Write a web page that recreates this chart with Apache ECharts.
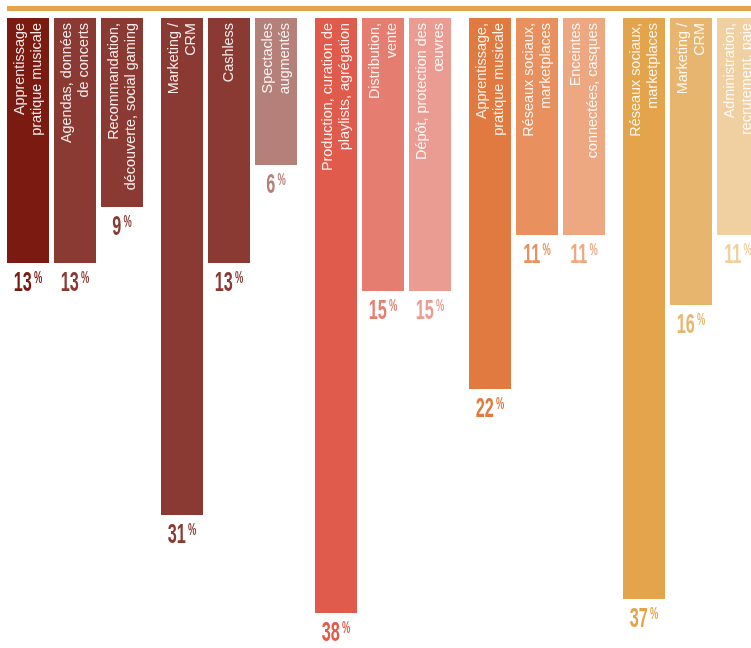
<!DOCTYPE html>
<html>
<head>
<meta charset="utf-8">
<script src="https://cdn.jsdelivr.net/npm/echarts@6/dist/echarts.min.js"></script>
<style>
  html, body { margin: 0; padding: 0; background: #ffffff; }
  #chart { width: 751px; height: 648px; }
</style>
</head>
<body>
<div id="chart"></div>
<script>
// Five groups of three uses each; every bar hangs from the top rule.
const groups = ['1', '2', '3', '4', '5'];

const labels = [
  'Apprentissage\npratique musicale',
  'Agendas, données\nde concerts',
  'Recommandation,\ndécouverte, social gaming',
  'Marketing /\nCRM',
  'Cashless',
  'Spectacles\naugmentés',
  'Production, curation de\nplaylists, agrégation',
  'Distribution,\nvente',
  'Dépôt, protection des\nœuvres',
  'Apprentissage,\npratique musicale',
  'Réseaux sociaux,\nmarketplaces',
  'Enceintes\nconnectées, casques',
  'Réseaux sociaux,\nmarketplaces',
  'Marketing /\nCRM',
  'Administration,\nrecrutement, paie'
];

const values = [13, 13, 9, 31, 13, 6, 38, 15, 15, 22, 11, 11, 37, 16, 11];

const colors = [
  '#7a1a10', '#8b3a33', '#8b3a33',
  '#8b3a33', '#8b3a33', '#b58079',
  '#e05b4b', '#e57d70', '#eb9c92',
  '#e07a40', '#e8905e', '#eda882',
  '#e3a44b', '#e8b56f', '#f0cfa0'
];

const PER_GROUP = 3;
const AXIS_MIN = -4.5;
const AXIS_MAX = 40;
const BAR_W = 42;
const BAR_STEP = 47;

// [group index, value, slot within group, bar index]
const seriesData = values.map(function (v, i) {
  return [Math.floor(i / PER_GROUP), v, i % PER_GROUP, i];
});

function renderBar(params, api) {
  const g = api.value(0);
  const v = api.value(1);
  const slot = api.value(2);
  const idx = api.value(3);
  const end = api.coord([g, v]);
  const start = api.coord([g, AXIS_MIN]);
  const cx = end[0] + (slot - (PER_GROUP - 1) / 2) * BAR_STEP;
  const top = start[1];
  const bottom = end[1];
  const color = colors[idx];

  return {
    type: 'group',
    children: [
      {
        type: 'rect',
        shape: { x: cx - BAR_W / 2, y: top, width: BAR_W, height: bottom - top },
        style: { fill: color }
      },
      {
        type: 'text',
        x: cx,
        y: top + 5,
        rotation: Math.PI / 2,
        scaleX: 0.96,
        style: {
          text: labels[idx],
          fill: 'rgba(255,255,255,0.9)',
          fontFamily: '"Liberation Sans", Arial, sans-serif',
          fontSize: 15,
          lineHeight: 17,
          align: 'right',
          verticalAlign: 'middle'
        }
      },
      {
        type: 'text',
        x: cx,
        y: bottom + 6,
        scaleX: 0.58,
        style: {
          text: '{n|' + values[idx] + '}{p|%}',
          align: 'center',
          verticalAlign: 'top',
          rich: {
            n: {
              fontFamily: '"Liberation Sans", Arial, sans-serif',
              fontWeight: 'bold',
              fontSize: 28,
              fill: color,
              verticalAlign: 'top'
            },
            p: {
              fontFamily: '"Liberation Sans", Arial, sans-serif',
              fontWeight: 'bold',
              fontSize: 16,
              fill: color,
              verticalAlign: 'top',
              padding: [2, 0, 0, 4]
            }
          }
        }
      }
    ]
  };
}

const chart = echarts.init(document.getElementById('chart'), null, { renderer: 'canvas' });

chart.setOption({
  animation: false,
  backgroundColor: '#ffffff',
  grid: { left: -2, top: 18, width: 770, bottom: 7, outerBoundsMode: 'none', containLabel: false },
  xAxis: {
    type: 'category',
    data: groups,
    show: false
  },
  yAxis: {
    type: 'value',
    inverse: true,
    min: AXIS_MIN,
    max: AXIS_MAX,
    show: false
  },
  graphic: [
    {
      type: 'rect',
      shape: { x: 7, y: 6, width: 744, height: 5 },
      style: { fill: '#e3a44b' },
      silent: true
    }
  ],
  series: [
    {
      type: 'custom',
      data: seriesData,
      encode: { x: 0, y: 1 },
      renderItem: renderBar,
      clip: false
    }
  ]
});
</script>
</body>
</html>
